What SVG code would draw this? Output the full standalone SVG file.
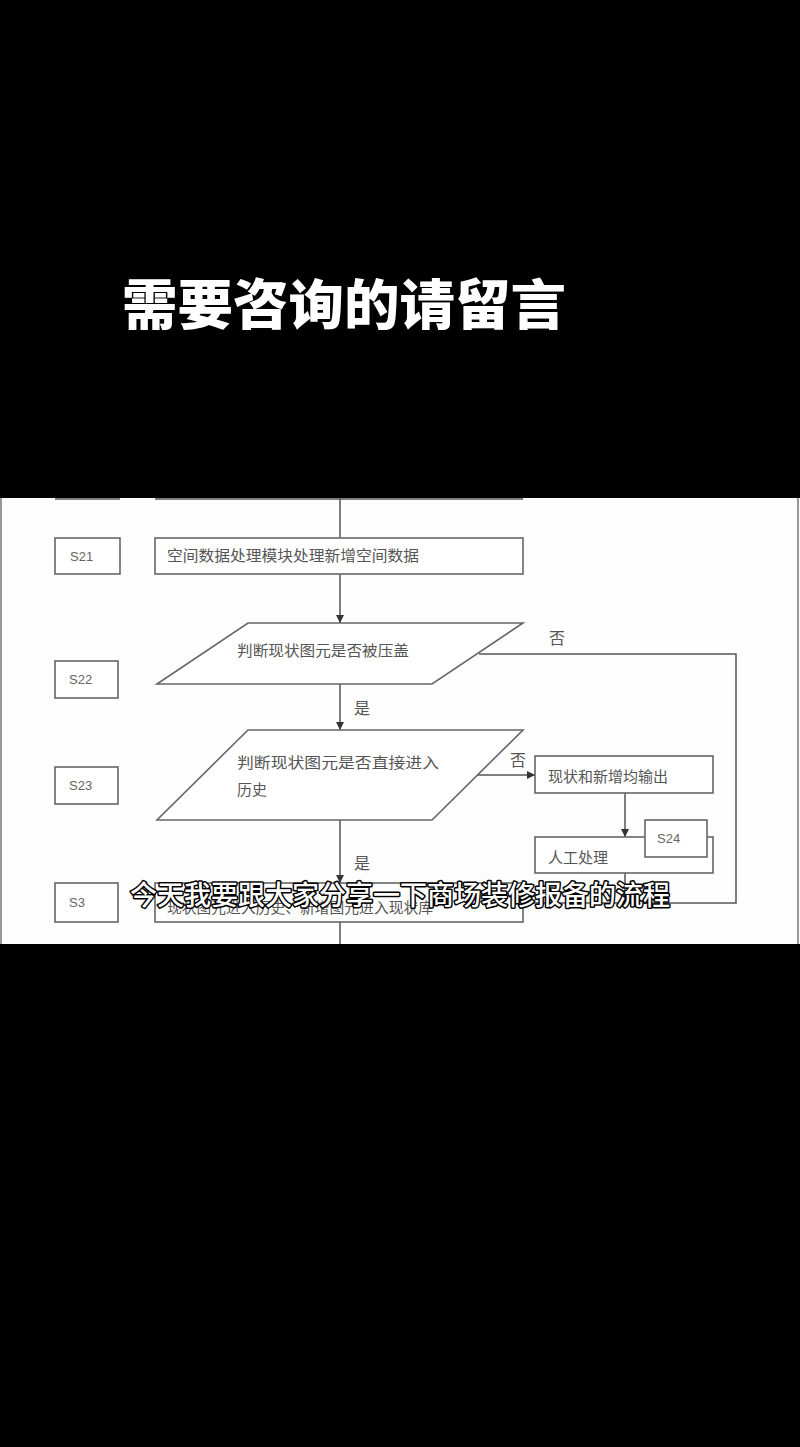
<svg xmlns="http://www.w3.org/2000/svg" width="800" height="1447" viewBox="0 0 800 1447">
<defs>
<style>
.bx{fill:#fff;stroke:#666;stroke-width:1.6}
.ln{fill:none;stroke:#555;stroke-width:1.5}
.t{font-family:"Noto Sans CJK SC","Noto Sans",sans-serif;font-size:15px;fill:#555}
.lb{font-family:"Liberation Sans","DejaVu Sans",sans-serif;font-size:13px;fill:#666}
.yn{font-family:"Noto Sans CJK SC",sans-serif;font-size:16px;fill:#555}
</style>
<marker id="ah" viewBox="0 0 10 10" refX="10" refY="5" markerWidth="8" markerHeight="8" markerUnits="userSpaceOnUse" orient="auto">
<path d="M0,0 L10,5 L0,10 Z" fill="#333"/>
</marker>
</defs>
<rect x="0" y="0" width="800" height="1447" fill="#000"/>
<text x="122" y="325" font-family="Noto Sans CJK SC,sans-serif" font-weight="900" font-size="54" fill="#fff" textLength="444" lengthAdjust="spacingAndGlyphs">需要咨询的请留言</text>
<rect x="0" y="498" width="800" height="446" fill="#fdfdfd"/>
<line x1="1" y1="498" x2="1" y2="944" stroke="#999" stroke-width="2"/>
<line x1="798" y1="498" x2="798" y2="944" stroke="#999" stroke-width="2"/>
<g id="connectors">
<line class="ln" x1="55" y1="499" x2="120" y2="499"/>
<line class="ln" x1="155" y1="499" x2="523" y2="499"/>
<line class="ln" x1="340" y1="498" x2="340" y2="538"/>
<line class="ln" x1="340" y1="574" x2="340" y2="623" marker-end="url(#ah)"/>
<polyline class="ln" points="479,654 736,654 736,903 523,903"/>
<line class="ln" x1="340" y1="684" x2="340" y2="730" marker-end="url(#ah)"/>
<line class="ln" x1="478" y1="775" x2="535" y2="775" marker-end="url(#ah)"/>
<line class="ln" x1="625" y1="793" x2="625" y2="837" marker-end="url(#ah)"/>
<line class="ln" x1="625" y1="873" x2="625" y2="903"/>
<line class="ln" x1="340" y1="820" x2="340" y2="883" marker-end="url(#ah)"/>
<line class="ln" x1="340" y1="922" x2="340" y2="944"/>
<text class="yn" x="549" y="644">否</text>
<text class="yn" x="354" y="714">是</text>
<text class="yn" x="510" y="766">否</text>
<text class="yn" x="354" y="869">是</text>
</g>
<g id="s21-label"><rect class="bx" x="55" y="538" width="65" height="36"/><text class="lb" x="70" y="561">S21</text></g>
<g id="s21"><rect class="bx" x="155" y="538" width="368" height="36"/><text class="t" x="167" y="561" textLength="252" lengthAdjust="spacingAndGlyphs">空间数据处理模块处理新增空间数据</text></g>
<g id="s22-label"><rect class="bx" x="55" y="661" width="63" height="37"/><text class="lb" x="69" y="684">S22</text></g>
<g id="s22"><polygon class="bx" points="248,623 523,623 432,684 157,684"/><text class="t" x="237" y="656" textLength="172" lengthAdjust="spacingAndGlyphs">判断现状图元是否被压盖</text></g>
<g id="s23-label"><rect class="bx" x="55" y="767" width="63" height="37"/><text class="lb" x="69" y="790">S23</text></g>
<g id="s23"><polygon class="bx" points="248,730 523,730 432,820 157,820"/><text class="t" x="237" y="768" textLength="202" lengthAdjust="spacingAndGlyphs">判断现状图元是否直接进入</text><text class="t" x="237" y="795">历史</text></g>
<g id="output"><rect class="bx" x="535" y="756" width="178" height="37"/><text class="t" x="548" y="782">现状和新增均输出</text></g>
<g id="manual"><rect class="bx" x="535" y="837" width="178" height="36"/><text class="t" x="548" y="863">人工处理</text></g>
<g id="s24-label"><rect class="bx" x="645" y="820" width="62" height="37"/><text class="lb" x="657" y="843">S24</text></g>
<g id="s3-label"><rect class="bx" x="55" y="883" width="63" height="39"/><text class="lb" x="69" y="907">S3</text></g>
<g id="s3"><rect class="bx" x="155" y="883" width="368" height="39"/><text class="t" x="167" y="913" textLength="266" lengthAdjust="spacingAndGlyphs">现状图元进入历史、新增图元进入现状库</text></g>
<text x="130" y="905" font-family="Noto Sans CJK SC,sans-serif" font-weight="500" font-size="27" fill="#fff" stroke="#000" stroke-width="3" paint-order="stroke" stroke-linejoin="round" textLength="540" lengthAdjust="spacingAndGlyphs">今天我要跟大家分享一下商场装修报备的流程</text>
</svg>
